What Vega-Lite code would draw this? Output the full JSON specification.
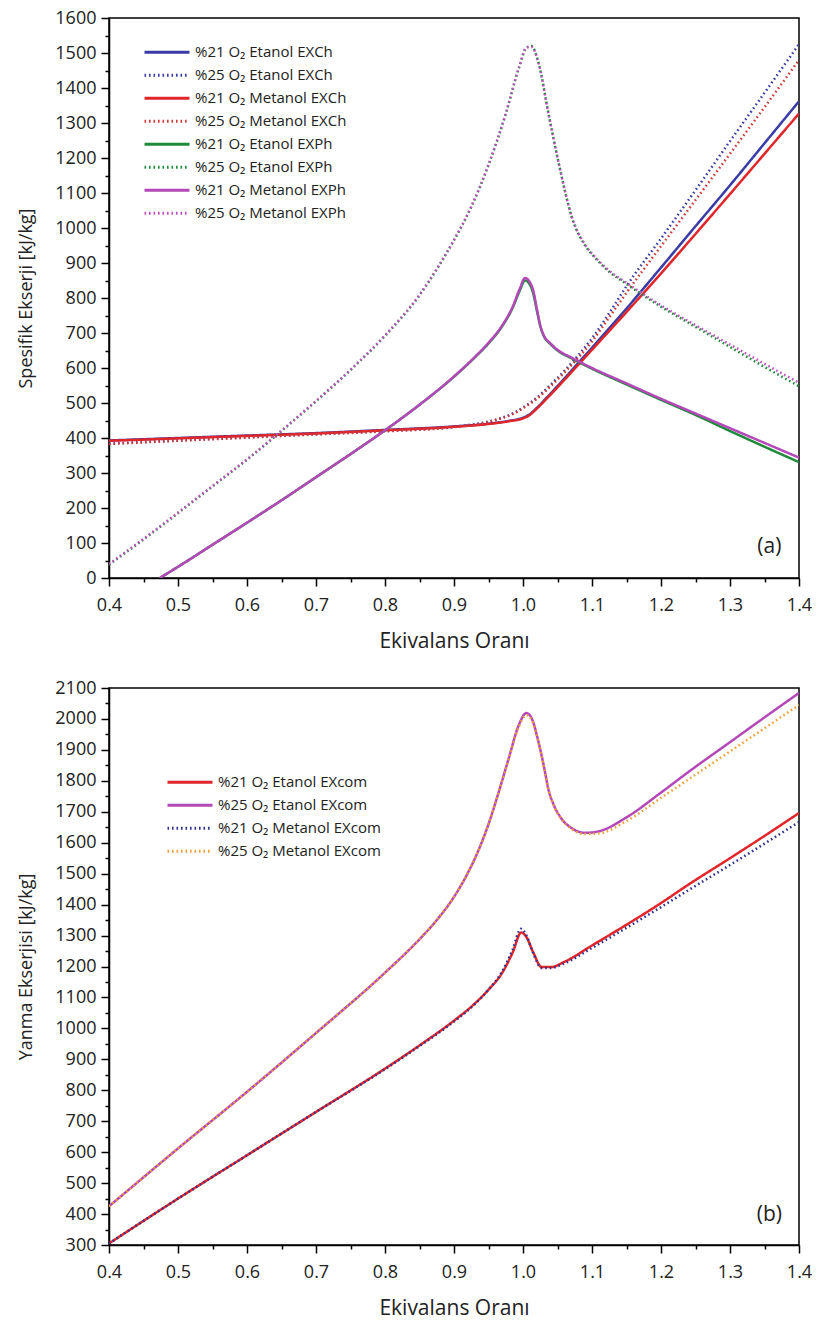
{
  "$schema": "https://vega.github.io/schema/vega-lite/v6.json",
  "padding": {"left": 17, "top": 8, "right": 12, "bottom": 4},
  "spacing": 26,
  "config": {
    "font": "Open Sans",
    "view": {"stroke": "#000", "strokeWidth": 1.5},
    "axis": {"domainColor": "#000", "domainWidth": 1.5, "tickColor": "#000", "tickWidth": 1.5, "labelFont": "Open Sans", "labelFontSize": 18, "labelColor": "#222", "titleFont": "Open Sans", "titleFontWeight": "normal", "titleColor": "#222", "grid": false},
    "axisX": {"titleFontSize": 21},
    "axisY": {"titleFontSize": 18},
    "legend": {"labelFont": "Open Sans", "labelFontSize": 15, "labelColor": "#222", "labelLimit": 400, "symbolType": "stroke", "symbolStrokeWidth": 3, "symbolSize": 2025, "labelOffset": 4, "rowPadding": 0, "clipHeight": 22.6},
    "text": {"font": "Open Sans"}
  },
  "datasets": {
    "a": [
      {"series": "%21 O₂ Etanol EXCh", "phi": 0.4, "val": 393}, {"series": "%21 O₂ Etanol EXCh", "phi": 0.5, "val": 400}, {"series": "%21 O₂ Etanol EXCh", "phi": 0.6, "val": 407}, {"series": "%21 O₂ Etanol EXCh", "phi": 0.7, "val": 414}, {"series": "%21 O₂ Etanol EXCh", "phi": 0.8, "val": 423}, {"series": "%21 O₂ Etanol EXCh", "phi": 0.9, "val": 433}, {"series": "%21 O₂ Etanol EXCh", "phi": 0.95, "val": 441}, {"series": "%21 O₂ Etanol EXCh", "phi": 0.98, "val": 449}, {"series": "%21 O₂ Etanol EXCh", "phi": 1.0, "val": 458}, {"series": "%21 O₂ Etanol EXCh", "phi": 1.01, "val": 468}, {"series": "%21 O₂ Etanol EXCh", "phi": 1.02, "val": 486}, {"series": "%21 O₂ Etanol EXCh", "phi": 1.04, "val": 527}, {"series": "%21 O₂ Etanol EXCh", "phi": 1.06, "val": 570}, {"series": "%21 O₂ Etanol EXCh", "phi": 1.08, "val": 614}, {"series": "%21 O₂ Etanol EXCh", "phi": 1.1, "val": 658}, {"series": "%21 O₂ Etanol EXCh", "phi": 1.15, "val": 770}, {"series": "%21 O₂ Etanol EXCh", "phi": 1.2, "val": 887}, {"series": "%21 O₂ Etanol EXCh", "phi": 1.25, "val": 1005}, {"series": "%21 O₂ Etanol EXCh", "phi": 1.3, "val": 1122}, {"series": "%21 O₂ Etanol EXCh", "phi": 1.35, "val": 1242}, {"series": "%21 O₂ Etanol EXCh", "phi": 1.4, "val": 1362},
      {"series": "%25 O₂ Etanol EXCh", "phi": 0.4, "val": 384}, {"series": "%25 O₂ Etanol EXCh", "phi": 0.5, "val": 393}, {"series": "%25 O₂ Etanol EXCh", "phi": 0.6, "val": 402}, {"series": "%25 O₂ Etanol EXCh", "phi": 0.7, "val": 411}, {"series": "%25 O₂ Etanol EXCh", "phi": 0.8, "val": 420}, {"series": "%25 O₂ Etanol EXCh", "phi": 0.9, "val": 432}, {"series": "%25 O₂ Etanol EXCh", "phi": 0.95, "val": 447}, {"series": "%25 O₂ Etanol EXCh", "phi": 0.97, "val": 458}, {"series": "%25 O₂ Etanol EXCh", "phi": 0.99, "val": 475}, {"series": "%25 O₂ Etanol EXCh", "phi": 1.0, "val": 487}, {"series": "%25 O₂ Etanol EXCh", "phi": 1.02, "val": 515}, {"series": "%25 O₂ Etanol EXCh", "phi": 1.04, "val": 552}, {"series": "%25 O₂ Etanol EXCh", "phi": 1.06, "val": 592}, {"series": "%25 O₂ Etanol EXCh", "phi": 1.08, "val": 636}, {"series": "%25 O₂ Etanol EXCh", "phi": 1.1, "val": 685}, {"series": "%25 O₂ Etanol EXCh", "phi": 1.125, "val": 757}, {"series": "%25 O₂ Etanol EXCh", "phi": 1.15, "val": 834}, {"series": "%25 O₂ Etanol EXCh", "phi": 1.2, "val": 970}, {"series": "%25 O₂ Etanol EXCh", "phi": 1.25, "val": 1108}, {"series": "%25 O₂ Etanol EXCh", "phi": 1.3, "val": 1248}, {"series": "%25 O₂ Etanol EXCh", "phi": 1.35, "val": 1386}, {"series": "%25 O₂ Etanol EXCh", "phi": 1.4, "val": 1525},
      {"series": "%21 O₂ Metanol EXCh", "phi": 0.4, "val": 392}, {"series": "%21 O₂ Metanol EXCh", "phi": 0.5, "val": 399}, {"series": "%21 O₂ Metanol EXCh", "phi": 0.6, "val": 406}, {"series": "%21 O₂ Metanol EXCh", "phi": 0.7, "val": 413}, {"series": "%21 O₂ Metanol EXCh", "phi": 0.8, "val": 422}, {"series": "%21 O₂ Metanol EXCh", "phi": 0.9, "val": 432}, {"series": "%21 O₂ Metanol EXCh", "phi": 0.95, "val": 440}, {"series": "%21 O₂ Metanol EXCh", "phi": 0.98, "val": 448}, {"series": "%21 O₂ Metanol EXCh", "phi": 1.0, "val": 456}, {"series": "%21 O₂ Metanol EXCh", "phi": 1.01, "val": 466}, {"series": "%21 O₂ Metanol EXCh", "phi": 1.02, "val": 484}, {"series": "%21 O₂ Metanol EXCh", "phi": 1.04, "val": 524}, {"series": "%21 O₂ Metanol EXCh", "phi": 1.06, "val": 566}, {"series": "%21 O₂ Metanol EXCh", "phi": 1.08, "val": 609}, {"series": "%21 O₂ Metanol EXCh", "phi": 1.1, "val": 652}, {"series": "%21 O₂ Metanol EXCh", "phi": 1.15, "val": 760}, {"series": "%21 O₂ Metanol EXCh", "phi": 1.2, "val": 870}, {"series": "%21 O₂ Metanol EXCh", "phi": 1.25, "val": 983}, {"series": "%21 O₂ Metanol EXCh", "phi": 1.3, "val": 1097}, {"series": "%21 O₂ Metanol EXCh", "phi": 1.35, "val": 1212}, {"series": "%21 O₂ Metanol EXCh", "phi": 1.4, "val": 1327},
      {"series": "%25 O₂ Metanol EXCh", "phi": 0.4, "val": 383}, {"series": "%25 O₂ Metanol EXCh", "phi": 0.5, "val": 392}, {"series": "%25 O₂ Metanol EXCh", "phi": 0.6, "val": 401}, {"series": "%25 O₂ Metanol EXCh", "phi": 0.7, "val": 410}, {"series": "%25 O₂ Metanol EXCh", "phi": 0.8, "val": 419}, {"series": "%25 O₂ Metanol EXCh", "phi": 0.9, "val": 431}, {"series": "%25 O₂ Metanol EXCh", "phi": 0.95, "val": 446}, {"series": "%25 O₂ Metanol EXCh", "phi": 0.97, "val": 457}, {"series": "%25 O₂ Metanol EXCh", "phi": 0.99, "val": 473}, {"series": "%25 O₂ Metanol EXCh", "phi": 1.0, "val": 485}, {"series": "%25 O₂ Metanol EXCh", "phi": 1.02, "val": 512}, {"series": "%25 O₂ Metanol EXCh", "phi": 1.04, "val": 548}, {"series": "%25 O₂ Metanol EXCh", "phi": 1.06, "val": 587}, {"series": "%25 O₂ Metanol EXCh", "phi": 1.08, "val": 629}, {"series": "%25 O₂ Metanol EXCh", "phi": 1.1, "val": 676}, {"series": "%25 O₂ Metanol EXCh", "phi": 1.125, "val": 745}, {"series": "%25 O₂ Metanol EXCh", "phi": 1.15, "val": 815}, {"series": "%25 O₂ Metanol EXCh", "phi": 1.2, "val": 948}, {"series": "%25 O₂ Metanol EXCh", "phi": 1.25, "val": 1080}, {"series": "%25 O₂ Metanol EXCh", "phi": 1.3, "val": 1212}, {"series": "%25 O₂ Metanol EXCh", "phi": 1.35, "val": 1345}, {"series": "%25 O₂ Metanol EXCh", "phi": 1.4, "val": 1480},
      {"series": "%21 O₂ Etanol EXPh", "phi": 0.4736, "val": 0}, {"series": "%21 O₂ Etanol EXPh", "phi": 0.5, "val": 32}, {"series": "%21 O₂ Etanol EXPh", "phi": 0.55, "val": 95}, {"series": "%21 O₂ Etanol EXPh", "phi": 0.6, "val": 158}, {"series": "%21 O₂ Etanol EXPh", "phi": 0.65, "val": 222}, {"series": "%21 O₂ Etanol EXPh", "phi": 0.7, "val": 288}, {"series": "%21 O₂ Etanol EXPh", "phi": 0.75, "val": 354}, {"series": "%21 O₂ Etanol EXPh", "phi": 0.8, "val": 422}, {"series": "%21 O₂ Etanol EXPh", "phi": 0.85, "val": 495}, {"series": "%21 O₂ Etanol EXPh", "phi": 0.9, "val": 575}, {"series": "%21 O₂ Etanol EXPh", "phi": 0.93, "val": 630}, {"series": "%21 O₂ Etanol EXPh", "phi": 0.95, "val": 670}, {"series": "%21 O₂ Etanol EXPh", "phi": 0.97, "val": 720}, {"series": "%21 O₂ Etanol EXPh", "phi": 0.985, "val": 772}, {"series": "%21 O₂ Etanol EXPh", "phi": 0.995, "val": 820}, {"series": "%21 O₂ Etanol EXPh", "phi": 1.003, "val": 850}, {"series": "%21 O₂ Etanol EXPh", "phi": 1.01, "val": 838}, {"series": "%21 O₂ Etanol EXPh", "phi": 1.015, "val": 812}, {"series": "%21 O₂ Etanol EXPh", "phi": 1.02, "val": 765}, {"series": "%21 O₂ Etanol EXPh", "phi": 1.025, "val": 720}, {"series": "%21 O₂ Etanol EXPh", "phi": 1.03, "val": 692}, {"series": "%21 O₂ Etanol EXPh", "phi": 1.04, "val": 668}, {"series": "%21 O₂ Etanol EXPh", "phi": 1.05, "val": 650}, {"series": "%21 O₂ Etanol EXPh", "phi": 1.07, "val": 628}, {"series": "%21 O₂ Etanol EXPh", "phi": 1.1, "val": 598}, {"series": "%21 O₂ Etanol EXPh", "phi": 1.15, "val": 553}, {"series": "%21 O₂ Etanol EXPh", "phi": 1.2, "val": 509}, {"series": "%21 O₂ Etanol EXPh", "phi": 1.25, "val": 466}, {"series": "%21 O₂ Etanol EXPh", "phi": 1.3, "val": 420}, {"series": "%21 O₂ Etanol EXPh", "phi": 1.35, "val": 375}, {"series": "%21 O₂ Etanol EXPh", "phi": 1.4, "val": 331},
      {"series": "%25 O₂ Etanol EXPh", "phi": 0.4, "val": 38}, {"series": "%25 O₂ Etanol EXPh", "phi": 0.45, "val": 110}, {"series": "%25 O₂ Etanol EXPh", "phi": 0.5, "val": 185}, {"series": "%25 O₂ Etanol EXPh", "phi": 0.55, "val": 262}, {"series": "%25 O₂ Etanol EXPh", "phi": 0.6, "val": 338}, {"series": "%25 O₂ Etanol EXPh", "phi": 0.65, "val": 420}, {"series": "%25 O₂ Etanol EXPh", "phi": 0.7, "val": 505}, {"series": "%25 O₂ Etanol EXPh", "phi": 0.75, "val": 594}, {"series": "%25 O₂ Etanol EXPh", "phi": 0.8, "val": 692}, {"series": "%25 O₂ Etanol EXPh", "phi": 0.85, "val": 808}, {"series": "%25 O₂ Etanol EXPh", "phi": 0.8775, "val": 890}, {"series": "%25 O₂ Etanol EXPh", "phi": 0.9, "val": 965}, {"series": "%25 O₂ Etanol EXPh", "phi": 0.925, "val": 1060}, {"series": "%25 O₂ Etanol EXPh", "phi": 0.95, "val": 1180}, {"series": "%25 O₂ Etanol EXPh", "phi": 0.975, "val": 1326}, {"series": "%25 O₂ Etanol EXPh", "phi": 0.994, "val": 1457}, {"series": "%25 O₂ Etanol EXPh", "phi": 1.005, "val": 1515}, {"series": "%25 O₂ Etanol EXPh", "phi": 1.012, "val": 1520}, {"series": "%25 O₂ Etanol EXPh", "phi": 1.023, "val": 1468}, {"series": "%25 O₂ Etanol EXPh", "phi": 1.037, "val": 1326}, {"series": "%25 O₂ Etanol EXPh", "phi": 1.052, "val": 1183}, {"series": "%25 O₂ Etanol EXPh", "phi": 1.071, "val": 1029}, {"series": "%25 O₂ Etanol EXPh", "phi": 1.09, "val": 950}, {"series": "%25 O₂ Etanol EXPh", "phi": 1.105, "val": 914}, {"series": "%25 O₂ Etanol EXPh", "phi": 1.125, "val": 875}, {"series": "%25 O₂ Etanol EXPh", "phi": 1.15, "val": 840}, {"series": "%25 O₂ Etanol EXPh", "phi": 1.2, "val": 775}, {"series": "%25 O₂ Etanol EXPh", "phi": 1.255, "val": 712}, {"series": "%25 O₂ Etanol EXPh", "phi": 1.3, "val": 660}, {"series": "%25 O₂ Etanol EXPh", "phi": 1.35, "val": 603}, {"series": "%25 O₂ Etanol EXPh", "phi": 1.4, "val": 548},
      {"series": "%21 O₂ Metanol EXPh", "phi": 0.4736, "val": 0}, {"series": "%21 O₂ Metanol EXPh", "phi": 0.5, "val": 32}, {"series": "%21 O₂ Metanol EXPh", "phi": 0.55, "val": 95}, {"series": "%21 O₂ Metanol EXPh", "phi": 0.6, "val": 158}, {"series": "%21 O₂ Metanol EXPh", "phi": 0.65, "val": 222}, {"series": "%21 O₂ Metanol EXPh", "phi": 0.7, "val": 288}, {"series": "%21 O₂ Metanol EXPh", "phi": 0.75, "val": 354}, {"series": "%21 O₂ Metanol EXPh", "phi": 0.8, "val": 422}, {"series": "%21 O₂ Metanol EXPh", "phi": 0.85, "val": 495}, {"series": "%21 O₂ Metanol EXPh", "phi": 0.9, "val": 576}, {"series": "%21 O₂ Metanol EXPh", "phi": 0.93, "val": 631}, {"series": "%21 O₂ Metanol EXPh", "phi": 0.95, "val": 672}, {"series": "%21 O₂ Metanol EXPh", "phi": 0.97, "val": 722}, {"series": "%21 O₂ Metanol EXPh", "phi": 0.985, "val": 775}, {"series": "%21 O₂ Metanol EXPh", "phi": 0.995, "val": 825}, {"series": "%21 O₂ Metanol EXPh", "phi": 1.003, "val": 857}, {"series": "%21 O₂ Metanol EXPh", "phi": 1.01, "val": 845}, {"series": "%21 O₂ Metanol EXPh", "phi": 1.015, "val": 820}, {"series": "%21 O₂ Metanol EXPh", "phi": 1.02, "val": 770}, {"series": "%21 O₂ Metanol EXPh", "phi": 1.025, "val": 722}, {"series": "%21 O₂ Metanol EXPh", "phi": 1.03, "val": 694}, {"series": "%21 O₂ Metanol EXPh", "phi": 1.04, "val": 670}, {"series": "%21 O₂ Metanol EXPh", "phi": 1.05, "val": 652}, {"series": "%21 O₂ Metanol EXPh", "phi": 1.07, "val": 630}, {"series": "%21 O₂ Metanol EXPh", "phi": 1.1, "val": 600}, {"series": "%21 O₂ Metanol EXPh", "phi": 1.15, "val": 556}, {"series": "%21 O₂ Metanol EXPh", "phi": 1.2, "val": 512}, {"series": "%21 O₂ Metanol EXPh", "phi": 1.25, "val": 470}, {"series": "%21 O₂ Metanol EXPh", "phi": 1.3, "val": 428}, {"series": "%21 O₂ Metanol EXPh", "phi": 1.35, "val": 386}, {"series": "%21 O₂ Metanol EXPh", "phi": 1.4, "val": 344},
      {"series": "%25 O₂ Metanol EXPh", "phi": 0.4, "val": 40}, {"series": "%25 O₂ Metanol EXPh", "phi": 0.45, "val": 112}, {"series": "%25 O₂ Metanol EXPh", "phi": 0.5, "val": 187}, {"series": "%25 O₂ Metanol EXPh", "phi": 0.55, "val": 263}, {"series": "%25 O₂ Metanol EXPh", "phi": 0.6, "val": 339}, {"series": "%25 O₂ Metanol EXPh", "phi": 0.65, "val": 421}, {"series": "%25 O₂ Metanol EXPh", "phi": 0.7, "val": 506}, {"series": "%25 O₂ Metanol EXPh", "phi": 0.75, "val": 595}, {"series": "%25 O₂ Metanol EXPh", "phi": 0.8, "val": 693}, {"series": "%25 O₂ Metanol EXPh", "phi": 0.85, "val": 809}, {"series": "%25 O₂ Metanol EXPh", "phi": 0.8775, "val": 891}, {"series": "%25 O₂ Metanol EXPh", "phi": 0.9, "val": 966}, {"series": "%25 O₂ Metanol EXPh", "phi": 0.925, "val": 1061}, {"series": "%25 O₂ Metanol EXPh", "phi": 0.95, "val": 1181}, {"series": "%25 O₂ Metanol EXPh", "phi": 0.975, "val": 1327}, {"series": "%25 O₂ Metanol EXPh", "phi": 0.994, "val": 1458}, {"series": "%25 O₂ Metanol EXPh", "phi": 1.005, "val": 1516}, {"series": "%25 O₂ Metanol EXPh", "phi": 1.012, "val": 1518}, {"series": "%25 O₂ Metanol EXPh", "phi": 1.023, "val": 1468}, {"series": "%25 O₂ Metanol EXPh", "phi": 1.037, "val": 1326}, {"series": "%25 O₂ Metanol EXPh", "phi": 1.052, "val": 1183}, {"series": "%25 O₂ Metanol EXPh", "phi": 1.071, "val": 1030}, {"series": "%25 O₂ Metanol EXPh", "phi": 1.09, "val": 952}, {"series": "%25 O₂ Metanol EXPh", "phi": 1.105, "val": 916}, {"series": "%25 O₂ Metanol EXPh", "phi": 1.125, "val": 878}, {"series": "%25 O₂ Metanol EXPh", "phi": 1.15, "val": 843}, {"series": "%25 O₂ Metanol EXPh", "phi": 1.2, "val": 779}, {"series": "%25 O₂ Metanol EXPh", "phi": 1.255, "val": 717}, {"series": "%25 O₂ Metanol EXPh", "phi": 1.3, "val": 667}, {"series": "%25 O₂ Metanol EXPh", "phi": 1.35, "val": 612}, {"series": "%25 O₂ Metanol EXPh", "phi": 1.4, "val": 558}
    ],
    "b": [
      {"series": "%21 O₂ Etanol EXcom", "phi": 0.4, "val": 305}, {"series": "%21 O₂ Etanol EXcom", "phi": 0.5, "val": 450}, {"series": "%21 O₂ Etanol EXcom", "phi": 0.6, "val": 590}, {"series": "%21 O₂ Etanol EXcom", "phi": 0.7, "val": 730}, {"series": "%21 O₂ Etanol EXcom", "phi": 0.8, "val": 870}, {"series": "%21 O₂ Etanol EXcom", "phi": 0.85, "val": 945}, {"series": "%21 O₂ Etanol EXcom", "phi": 0.9, "val": 1025}, {"series": "%21 O₂ Etanol EXcom", "phi": 0.93, "val": 1080}, {"series": "%21 O₂ Etanol EXcom", "phi": 0.95, "val": 1125}, {"series": "%21 O₂ Etanol EXcom", "phi": 0.97, "val": 1180}, {"series": "%21 O₂ Etanol EXcom", "phi": 0.985, "val": 1245}, {"series": "%21 O₂ Etanol EXcom", "phi": 0.9975, "val": 1310}, {"series": "%21 O₂ Etanol EXcom", "phi": 1.005, "val": 1295}, {"series": "%21 O₂ Etanol EXcom", "phi": 1.015, "val": 1245}, {"series": "%21 O₂ Etanol EXcom", "phi": 1.027, "val": 1198}, {"series": "%21 O₂ Etanol EXcom", "phi": 1.04, "val": 1198}, {"series": "%21 O₂ Etanol EXcom", "phi": 1.06, "val": 1215}, {"series": "%21 O₂ Etanol EXcom", "phi": 1.1, "val": 1268}, {"series": "%21 O₂ Etanol EXcom", "phi": 1.15, "val": 1335}, {"series": "%21 O₂ Etanol EXcom", "phi": 1.2, "val": 1405}, {"series": "%21 O₂ Etanol EXcom", "phi": 1.24, "val": 1465}, {"series": "%21 O₂ Etanol EXcom", "phi": 1.3, "val": 1550}, {"series": "%21 O₂ Etanol EXcom", "phi": 1.35, "val": 1622}, {"series": "%21 O₂ Etanol EXcom", "phi": 1.4, "val": 1696},
      {"series": "%25 O₂ Etanol EXcom", "phi": 0.4, "val": 425}, {"series": "%25 O₂ Etanol EXcom", "phi": 0.5, "val": 612}, {"series": "%25 O₂ Etanol EXcom", "phi": 0.6, "val": 795}, {"series": "%25 O₂ Etanol EXcom", "phi": 0.7, "val": 985}, {"series": "%25 O₂ Etanol EXcom", "phi": 0.8, "val": 1180}, {"series": "%25 O₂ Etanol EXcom", "phi": 0.85, "val": 1288}, {"series": "%25 O₂ Etanol EXcom", "phi": 0.875, "val": 1350}, {"series": "%25 O₂ Etanol EXcom", "phi": 0.9, "val": 1425}, {"series": "%25 O₂ Etanol EXcom", "phi": 0.92, "val": 1502}, {"series": "%25 O₂ Etanol EXcom", "phi": 0.94, "val": 1600}, {"series": "%25 O₂ Etanol EXcom", "phi": 0.95, "val": 1660}, {"series": "%25 O₂ Etanol EXcom", "phi": 0.965, "val": 1765}, {"series": "%25 O₂ Etanol EXcom", "phi": 0.98, "val": 1878}, {"series": "%25 O₂ Etanol EXcom", "phi": 0.993, "val": 1975}, {"series": "%25 O₂ Etanol EXcom", "phi": 1.005, "val": 2019}, {"series": "%25 O₂ Etanol EXcom", "phi": 1.013, "val": 2000}, {"series": "%25 O₂ Etanol EXcom", "phi": 1.022, "val": 1930}, {"series": "%25 O₂ Etanol EXcom", "phi": 1.03, "val": 1850}, {"series": "%25 O₂ Etanol EXcom", "phi": 1.037, "val": 1771}, {"series": "%25 O₂ Etanol EXcom", "phi": 1.045, "val": 1720}, {"series": "%25 O₂ Etanol EXcom", "phi": 1.055, "val": 1680}, {"series": "%25 O₂ Etanol EXcom", "phi": 1.07, "val": 1648}, {"series": "%25 O₂ Etanol EXcom", "phi": 1.09, "val": 1632}, {"series": "%25 O₂ Etanol EXcom", "phi": 1.11, "val": 1637}, {"series": "%25 O₂ Etanol EXcom", "phi": 1.15, "val": 1682}, {"series": "%25 O₂ Etanol EXcom", "phi": 1.2, "val": 1762}, {"series": "%25 O₂ Etanol EXcom", "phi": 1.24, "val": 1829}, {"series": "%25 O₂ Etanol EXcom", "phi": 1.3, "val": 1925}, {"series": "%25 O₂ Etanol EXcom", "phi": 1.35, "val": 2005}, {"series": "%25 O₂ Etanol EXcom", "phi": 1.4, "val": 2084},
      {"series": "%21 O₂ Metanol EXcom", "phi": 0.4, "val": 305}, {"series": "%21 O₂ Metanol EXcom", "phi": 0.5, "val": 450}, {"series": "%21 O₂ Metanol EXcom", "phi": 0.6, "val": 590}, {"series": "%21 O₂ Metanol EXcom", "phi": 0.7, "val": 730}, {"series": "%21 O₂ Metanol EXcom", "phi": 0.8, "val": 868}, {"series": "%21 O₂ Metanol EXcom", "phi": 0.85, "val": 943}, {"series": "%21 O₂ Metanol EXcom", "phi": 0.9, "val": 1022}, {"series": "%21 O₂ Metanol EXcom", "phi": 0.93, "val": 1078}, {"series": "%21 O₂ Metanol EXcom", "phi": 0.95, "val": 1125}, {"series": "%21 O₂ Metanol EXcom", "phi": 0.97, "val": 1185}, {"series": "%21 O₂ Metanol EXcom", "phi": 0.985, "val": 1255}, {"series": "%21 O₂ Metanol EXcom", "phi": 0.997, "val": 1322}, {"series": "%21 O₂ Metanol EXcom", "phi": 1.005, "val": 1300}, {"series": "%21 O₂ Metanol EXcom", "phi": 1.015, "val": 1242}, {"series": "%21 O₂ Metanol EXcom", "phi": 1.027, "val": 1195}, {"series": "%21 O₂ Metanol EXcom", "phi": 1.04, "val": 1195}, {"series": "%21 O₂ Metanol EXcom", "phi": 1.06, "val": 1210}, {"series": "%21 O₂ Metanol EXcom", "phi": 1.1, "val": 1260}, {"series": "%21 O₂ Metanol EXcom", "phi": 1.15, "val": 1325}, {"series": "%21 O₂ Metanol EXcom", "phi": 1.2, "val": 1392}, {"series": "%21 O₂ Metanol EXcom", "phi": 1.24, "val": 1447}, {"series": "%21 O₂ Metanol EXcom", "phi": 1.3, "val": 1528}, {"series": "%21 O₂ Metanol EXcom", "phi": 1.35, "val": 1597}, {"series": "%21 O₂ Metanol EXcom", "phi": 1.4, "val": 1667},
      {"series": "%25 O₂ Metanol EXcom", "phi": 0.4, "val": 425}, {"series": "%25 O₂ Metanol EXcom", "phi": 0.5, "val": 612}, {"series": "%25 O₂ Metanol EXcom", "phi": 0.6, "val": 795}, {"series": "%25 O₂ Metanol EXcom", "phi": 0.7, "val": 985}, {"series": "%25 O₂ Metanol EXcom", "phi": 0.8, "val": 1180}, {"series": "%25 O₂ Metanol EXcom", "phi": 0.85, "val": 1288}, {"series": "%25 O₂ Metanol EXcom", "phi": 0.875, "val": 1350}, {"series": "%25 O₂ Metanol EXcom", "phi": 0.9, "val": 1425}, {"series": "%25 O₂ Metanol EXcom", "phi": 0.92, "val": 1502}, {"series": "%25 O₂ Metanol EXcom", "phi": 0.94, "val": 1600}, {"series": "%25 O₂ Metanol EXcom", "phi": 0.95, "val": 1660}, {"series": "%25 O₂ Metanol EXcom", "phi": 0.965, "val": 1765}, {"series": "%25 O₂ Metanol EXcom", "phi": 0.98, "val": 1876}, {"series": "%25 O₂ Metanol EXcom", "phi": 0.993, "val": 1970}, {"series": "%25 O₂ Metanol EXcom", "phi": 1.005, "val": 2012}, {"series": "%25 O₂ Metanol EXcom", "phi": 1.013, "val": 1995}, {"series": "%25 O₂ Metanol EXcom", "phi": 1.022, "val": 1928}, {"series": "%25 O₂ Metanol EXcom", "phi": 1.03, "val": 1848}, {"series": "%25 O₂ Metanol EXcom", "phi": 1.037, "val": 1770}, {"series": "%25 O₂ Metanol EXcom", "phi": 1.045, "val": 1718}, {"series": "%25 O₂ Metanol EXcom", "phi": 1.055, "val": 1678}, {"series": "%25 O₂ Metanol EXcom", "phi": 1.07, "val": 1645}, {"series": "%25 O₂ Metanol EXcom", "phi": 1.09, "val": 1628}, {"series": "%25 O₂ Metanol EXcom", "phi": 1.11, "val": 1630}, {"series": "%25 O₂ Metanol EXcom", "phi": 1.15, "val": 1670}, {"series": "%25 O₂ Metanol EXcom", "phi": 1.2, "val": 1745}, {"series": "%25 O₂ Metanol EXcom", "phi": 1.24, "val": 1805}, {"series": "%25 O₂ Metanol EXcom", "phi": 1.3, "val": 1895}, {"series": "%25 O₂ Metanol EXcom", "phi": 1.35, "val": 1970}, {"series": "%25 O₂ Metanol EXcom", "phi": 1.4, "val": 2045}
    ]
  },
  "vconcat": [
    {
      "width": 690,
      "height": 560,
      "encoding": {
        "x": {"field": "phi", "type": "quantitative", "scale": {"domain": [0.4, 1.4], "nice": false, "zero": false},
          "axis": {"title": "Ekivalans Oranı", "values": [0.4,0.45,0.5,0.55,0.6,0.65,0.7,0.75,0.8,0.85,0.9,0.95,1.0,1.05,1.1,1.15,1.2,1.25,1.3,1.35,1.4],
            "labelExpr": "round(datum.value*100) % 10 == 0 ? format(datum.value, '.1f') : ''",
            "tickSize": {"condition": {"test": "round(datum.value*100) % 10 == 0", "value": 8}, "value": 4},
            "labelPadding": 10, "titlePadding": 16, "labelFlush": false}},
        "y": {"field": "val", "type": "quantitative", "scale": {"domain": [0, 1600], "nice": false, "zero": false},
          "axis": {"title": "Spesifik Ekserji [kJ/kg]", "values": [0,50,100,150,200,250,300,350,400,450,500,550,600,650,700,750,800,850,900,950,1000,1050,1100,1150,1200,1250,1300,1350,1400,1450,1500,1550,1600],
            "labelExpr": "datum.value % 100 == 0 ? format(datum.value, 'd') : ''",
            "tickSize": {"condition": {"test": "datum.value % 100 == 0", "value": 8}, "value": 4},
            "labelPadding": 5, "titlePadding": 19, "labelFlush": false}}
      },
      "layer": [
        {
          "data": {"name": "a"},
          "mark": {"type": "line", "strokeWidth": 2.5, "clip": true, "interpolate": "monotone"},
          "encoding": {
            "color": {"field": "series", "type": "nominal",
              "scale": {"domain": ["%21 O₂ Etanol EXCh", "%25 O₂ Etanol EXCh", "%21 O₂ Metanol EXCh", "%25 O₂ Metanol EXCh", "%21 O₂ Etanol EXPh", "%25 O₂ Etanol EXPh", "%21 O₂ Metanol EXPh", "%25 O₂ Metanol EXPh"],
                "range": ["#3a3ca6", "#3a3ca6", "#e0262a", "#d0383a", "#1f8a3b", "#1f8a3b", "#b448b8", "#c050c0"]},
              "legend": {"title": null, "orient": "none", "legendX": 34, "legendY": 23}},
            "strokeDash": {"field": "series", "type": "nominal",
              "scale": {"domain": ["%21 O₂ Etanol EXCh", "%25 O₂ Etanol EXCh", "%21 O₂ Metanol EXCh", "%25 O₂ Metanol EXCh", "%21 O₂ Etanol EXPh", "%25 O₂ Etanol EXPh", "%21 O₂ Metanol EXPh", "%25 O₂ Metanol EXPh"],
                "range": [[1, 0], [1.6, 2.9], [1, 0], [1.6, 2.9], [1, 0], [1.6, 2.9], [1, 0], [1.6, 2.9]]},
              "legend": {"title": null, "orient": "none", "legendX": 34, "legendY": 23}}
          }
        },
        {
          "data": {"values": [{"phi": 1.357, "val": 88, "label": "(a)"}]},
          "mark": {"type": "text", "fontSize": 21, "color": "#222"},
          "encoding": {"text": {"field": "label"}}
        }
      ]
    },
    {
      "width": 690,
      "height": 557,
      "encoding": {
        "x": {"field": "phi", "type": "quantitative", "scale": {"domain": [0.4, 1.4], "nice": false, "zero": false},
          "axis": {"title": "Ekivalans Oranı", "values": [0.4,0.45,0.5,0.55,0.6,0.65,0.7,0.75,0.8,0.85,0.9,0.95,1.0,1.05,1.1,1.15,1.2,1.25,1.3,1.35,1.4],
            "labelExpr": "round(datum.value*100) % 10 == 0 ? format(datum.value, '.1f') : ''",
            "tickSize": {"condition": {"test": "round(datum.value*100) % 10 == 0", "value": 8}, "value": 4},
            "labelPadding": 10, "titlePadding": 16, "labelFlush": false}},
        "y": {"field": "val", "type": "quantitative", "scale": {"domain": [300, 2100], "nice": false, "zero": false},
          "axis": {"title": "Yanma Ekserjisi [kJ/kg]", "values": [300,350,400,450,500,550,600,650,700,750,800,850,900,950,1000,1050,1100,1150,1200,1250,1300,1350,1400,1450,1500,1550,1600,1650,1700,1750,1800,1850,1900,1950,2000,2050,2100],
            "labelExpr": "datum.value % 100 == 0 ? format(datum.value, 'd') : ''",
            "tickSize": {"condition": {"test": "datum.value % 100 == 0", "value": 8}, "value": 4},
            "labelPadding": 5, "titlePadding": 19, "labelFlush": false}}
      },
      "layer": [
        {
          "data": {"name": "b"},
          "mark": {"type": "line", "strokeWidth": 2.5, "clip": true, "interpolate": "monotone"},
          "encoding": {
            "color": {"field": "series", "type": "nominal",
              "scale": {"domain": ["%21 O₂ Etanol EXcom", "%25 O₂ Etanol EXcom", "%21 O₂ Metanol EXcom", "%25 O₂ Metanol EXcom"],
                "range": ["#e0262a", "#b448b8", "#30308f", "#f0a035"]},
              "legend": {"title": null, "orient": "none", "legendX": 57, "legendY": 83}},
            "strokeDash": {"field": "series", "type": "nominal",
              "scale": {"domain": ["%21 O₂ Etanol EXcom", "%25 O₂ Etanol EXcom", "%21 O₂ Metanol EXcom", "%25 O₂ Metanol EXcom"],
                "range": [[1, 0], [1, 0], [1.6, 2.9], [1.6, 2.9]]},
              "legend": {"title": null, "orient": "none", "legendX": 57, "legendY": 83}}
          }
        },
        {
          "data": {"values": [{"phi": 1.357, "val": 397, "label": "(b)"}]},
          "mark": {"type": "text", "fontSize": 21, "color": "#222"},
          "encoding": {"text": {"field": "label"}}
        }
      ]
    }
  ],
  "resolve": {"scale": {"color": "independent", "strokeDash": "independent"}, "legend": {"color": "independent", "strokeDash": "independent"}}
}
